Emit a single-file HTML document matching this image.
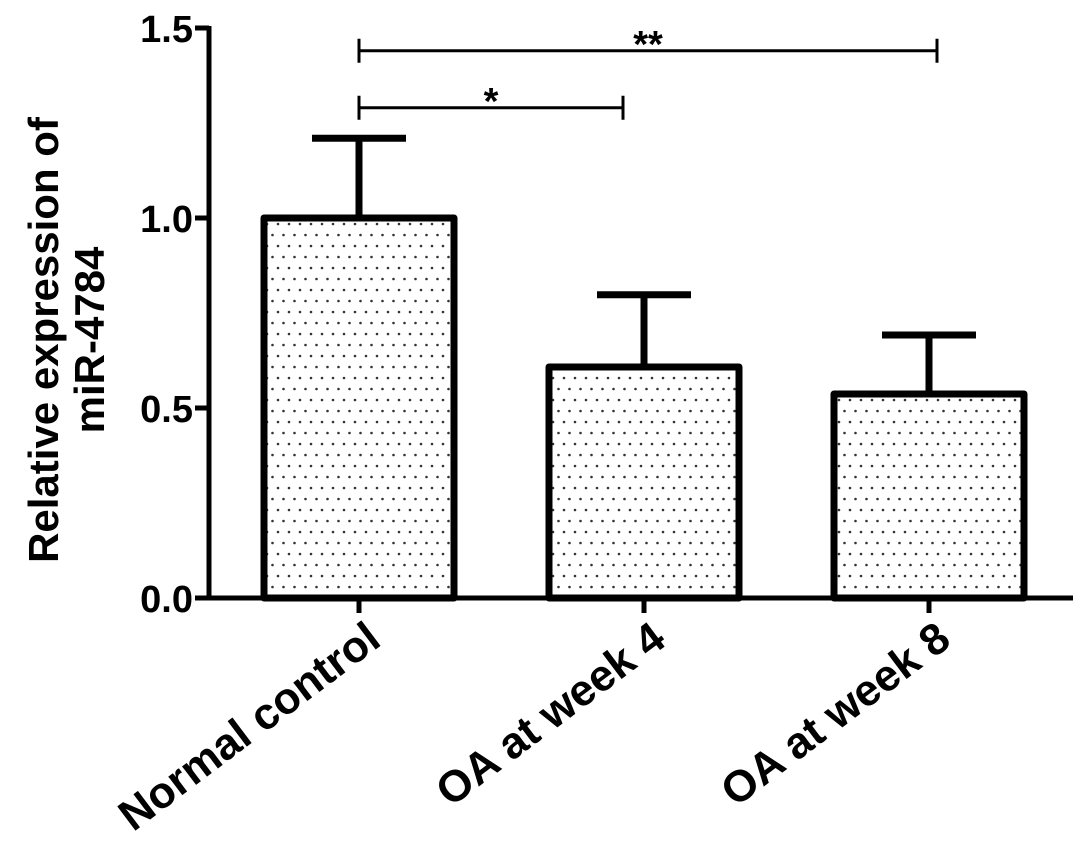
<!DOCTYPE html>
<html><head><meta charset="utf-8"><style>
html,body{margin:0;padding:0;background:#fff;}
svg{display:block;font-family:"Liberation Sans",Arial,sans-serif;font-weight:bold;}
</style></head><body>
<svg id="chart" width="1087" height="852" viewBox="0 0 1087 852" xmlns="http://www.w3.org/2000/svg">
<defs>
<pattern id="dots" width="11" height="22" patternUnits="userSpaceOnUse">
<circle cx="3" cy="4" r="1.3" fill="#333"/>
<circle cx="8.5" cy="15" r="1.3" fill="#333"/>
</pattern>
</defs>
<g id="bars"></g>
<g id="axes"></g>
<text transform="translate(58,340) rotate(-90)" text-anchor="middle" font-size="42">Relative expression of</text>
<text transform="translate(104,340) rotate(-90)" text-anchor="middle" font-size="42">miR-4784</text>
</svg>
<script>
const categories = ["Normal control","OA at week 4","OA at week 8"];
const means = [1.0, 0.608, 0.537];
const errors = [0.21, 0.19, 0.155];
const yTicks = [0.0, 0.5, 1.0, 1.5];
const yTickLabels = ["0.0","0.5","1.0","1.5"];
const sigPairs = [[0,1],[0,2]];
const sigLabels = ["*","**"];
const sigLevels = [1.29, 1.44];

const NS="http://www.w3.org/2000/svg";
const x0=209, x1=1073, y0=598, yTop=28;
const yScale=v=>y0-(v/1.5)*(y0-yTop);
const xCenter=i=>359+i*285;
const barW=190;
function mk(tag,attrs,parent){const e=document.createElementNS(NS,tag);for(const k in attrs)e.setAttribute(k,attrs[k]);parent.appendChild(e);return e;}
const bars=document.getElementById('bars'), axes=document.getElementById('axes');

categories.forEach((c,i)=>{
  const cx=xCenter(i), yt=yScale(means[i]), ye=yScale(means[i]+errors[i]);
  const eb=mk('path',{d:`M${cx},${yt} V${ye} M${cx-47},${ye} H${cx+47}`,stroke:'#000','stroke-width':7,fill:'none'},bars);
  
  
  const r=mk('rect',{x:cx-barW/2,y:yt,width:barW,height:y0-yt,fill:'url(#dots)',stroke:'#000','stroke-width':7,'stroke-linejoin':'round'},bars);
  
  
  const t=mk('line',{x1:cx,x2:cx,y1:y0,y2:y0+15,stroke:'#000','stroke-width':5},axes);
  
  
  const lb=mk('text',{transform:`translate(${cx+24},${y0+46}) rotate(-37)`,'text-anchor':'end','font-size':44},axes);
  lb.textContent=c;
  
  
});
const ya=mk('line',{x1:x0,x2:x0,y1:yTop-2,y2:y0+2,stroke:'#000','stroke-width':5},axes);


const xa=mk('line',{x1:x0-2,x2:x1,y1:y0,y2:y0,stroke:'#000','stroke-width':5},axes);


yTicks.forEach((v,i)=>{
  const y=yScale(v);
  const t=mk('line',{x1:x0-14,x2:x0,y1:y,y2:y,stroke:'#000','stroke-width':5},axes);
  
  
  const l=mk('text',{x:x0-16,y:y+14,'text-anchor':'end','font-size':38},axes);
  l.textContent=yTickLabels[i];
  
  
});
sigPairs.forEach((p,i)=>{
  const y=yScale(sigLevels[i]), xa_=xCenter(p[0]), xb=xCenter(p[1])-(p[1]===1?21:-8);
  const g=mk('path',{d:`M${xa_},${y-12} V${y+12} M${xa_},${y} H${xb} M${xb},${y-12} V${y+12}`,stroke:'#000','stroke-width':3,fill:'none'},axes);
  
  
  const s=mk('text',{x:(xa_+xb)/2,y:y+6,'text-anchor':'middle','font-size':38},axes);
  s.textContent=sigLabels[i];
  
  
});
</script>
</body></html>
